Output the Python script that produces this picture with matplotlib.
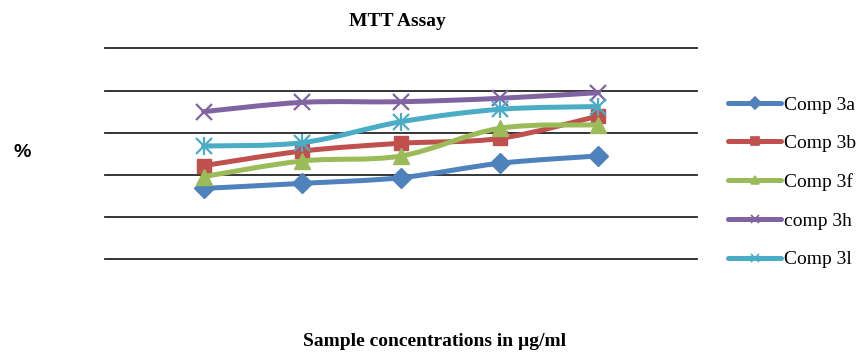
import matplotlib.pyplot as plt
from matplotlib.path import Path
from matplotlib.patches import PathPatch
from matplotlib.lines import Line2D

# data (percent, 5 concentrations)
concentrations = [1, 2, 3, 4, 5]
comp_3a = [33.6, 36.0, 38.7, 45.5, 49.0]
comp_3b = [44.4, 51.3, 55.0, 57.3, 67.9]
comp_3f = [39.2, 46.6, 49.0, 62.1, 63.7]
comp_3h = [70.0, 74.4, 74.7, 76.3, 79.0]
comp_3l = [53.7, 55.3, 65.2, 71.1, 72.4]
labels = ['Comp 3a', 'Comp 3b', 'Comp 3f', 'comp 3h', 'Comp 3l']
grid_values = [0, 20, 40, 60, 80, 100]

colors = ['#4F81BD', '#C0504D', '#9BBB59', '#8064A2', '#4BACC6']
markers = ['D', 's', '^', 'x', 'x']
msizes = [10.5, 10.5, 11.5, 12, 11]


def smooth_path(xs, ys, t=6.0):
    """Excel-like smoothed line as a cubic bezier path through the points."""
    pts = list(zip(xs, ys))
    verts = [pts[0]]
    codes = [Path.MOVETO]
    n = len(pts)
    for i in range(n - 1):
        p0 = pts[i - 1] if i > 0 else pts[i]
        p1 = pts[i]
        p2 = pts[i + 1]
        p3 = pts[i + 2] if i + 2 < n else pts[i + 1]
        c1 = (p1[0] + (p2[0] - p0[0]) / t, p1[1] + (p2[1] - p0[1]) / t)
        c2 = (p2[0] - (p3[0] - p1[0]) / t, p2[1] - (p3[1] - p1[1]) / t)
        verts += [c1, c2, p2]
        codes += [Path.CURVE4] * 3
    return Path(verts, codes)


fig = plt.figure(figsize=(8.6, 3.53), dpi=100)
ax = fig.add_axes([0.1221, 0.2654, 0.6884, 0.5977])
ax.set_xlim(0, 6)
ax.set_ylim(0, 100)
ax.axis('off')

for g in grid_values:
    ax.axhline(g, color='#262626', lw=1.3, clip_on=False, zorder=1)

series = [comp_3a, comp_3b, comp_3f, comp_3h, comp_3l]
handles = []
for i, vals in enumerate(series):
    col = colors[i]
    patch = PathPatch(smooth_path(concentrations, vals), fill=False,
                      edgecolor=col, lw=3.6, capstyle='round',
                      joinstyle='round', zorder=2 + i)
    ax.add_patch(patch)
    mew = 1.6 if markers[i] == 'x' else 1
    ax.plot(concentrations, vals, linestyle='none', marker=markers[i],
            ms=msizes[i], color=col, mew=mew, zorder=2 + i)
    if i == 4:
        ax.plot(concentrations, vals, linestyle='none', marker='|',
                ms=msizes[i] + 2, color=col, mew=1.6, zorder=2 + i)
    handles.append(Line2D([], [], color=col, lw=3.6, marker=markers[i],
                          ms=6, mew=1.2, solid_capstyle='round'))

fig.legend(handles, labels, loc='upper left', bbox_to_anchor=(0.838, 0.75),
           frameon=False, handlelength=2.7, handletextpad=0.15,
           labelspacing=1.08, borderaxespad=0,
           prop={'family': 'Liberation Serif', 'size': 14})

fig.text(0.462, 1 - 22 / 353, 'MTT Assay', ha='center', va='center',
         family='Liberation Serif', weight='bold', fontsize=14)
fig.text(0.505, 1 - 341 / 353, 'Sample concentrations in µg/ml',
         ha='center', va='center', family='Liberation Serif',
         weight='bold', fontsize=14)
fig.text(22 / 860, 1 - 152 / 353, '%', ha='center', va='center',
         family='Liberation Sans', weight='bold', fontsize=14)

fig.savefig('out.png', dpi=100)
